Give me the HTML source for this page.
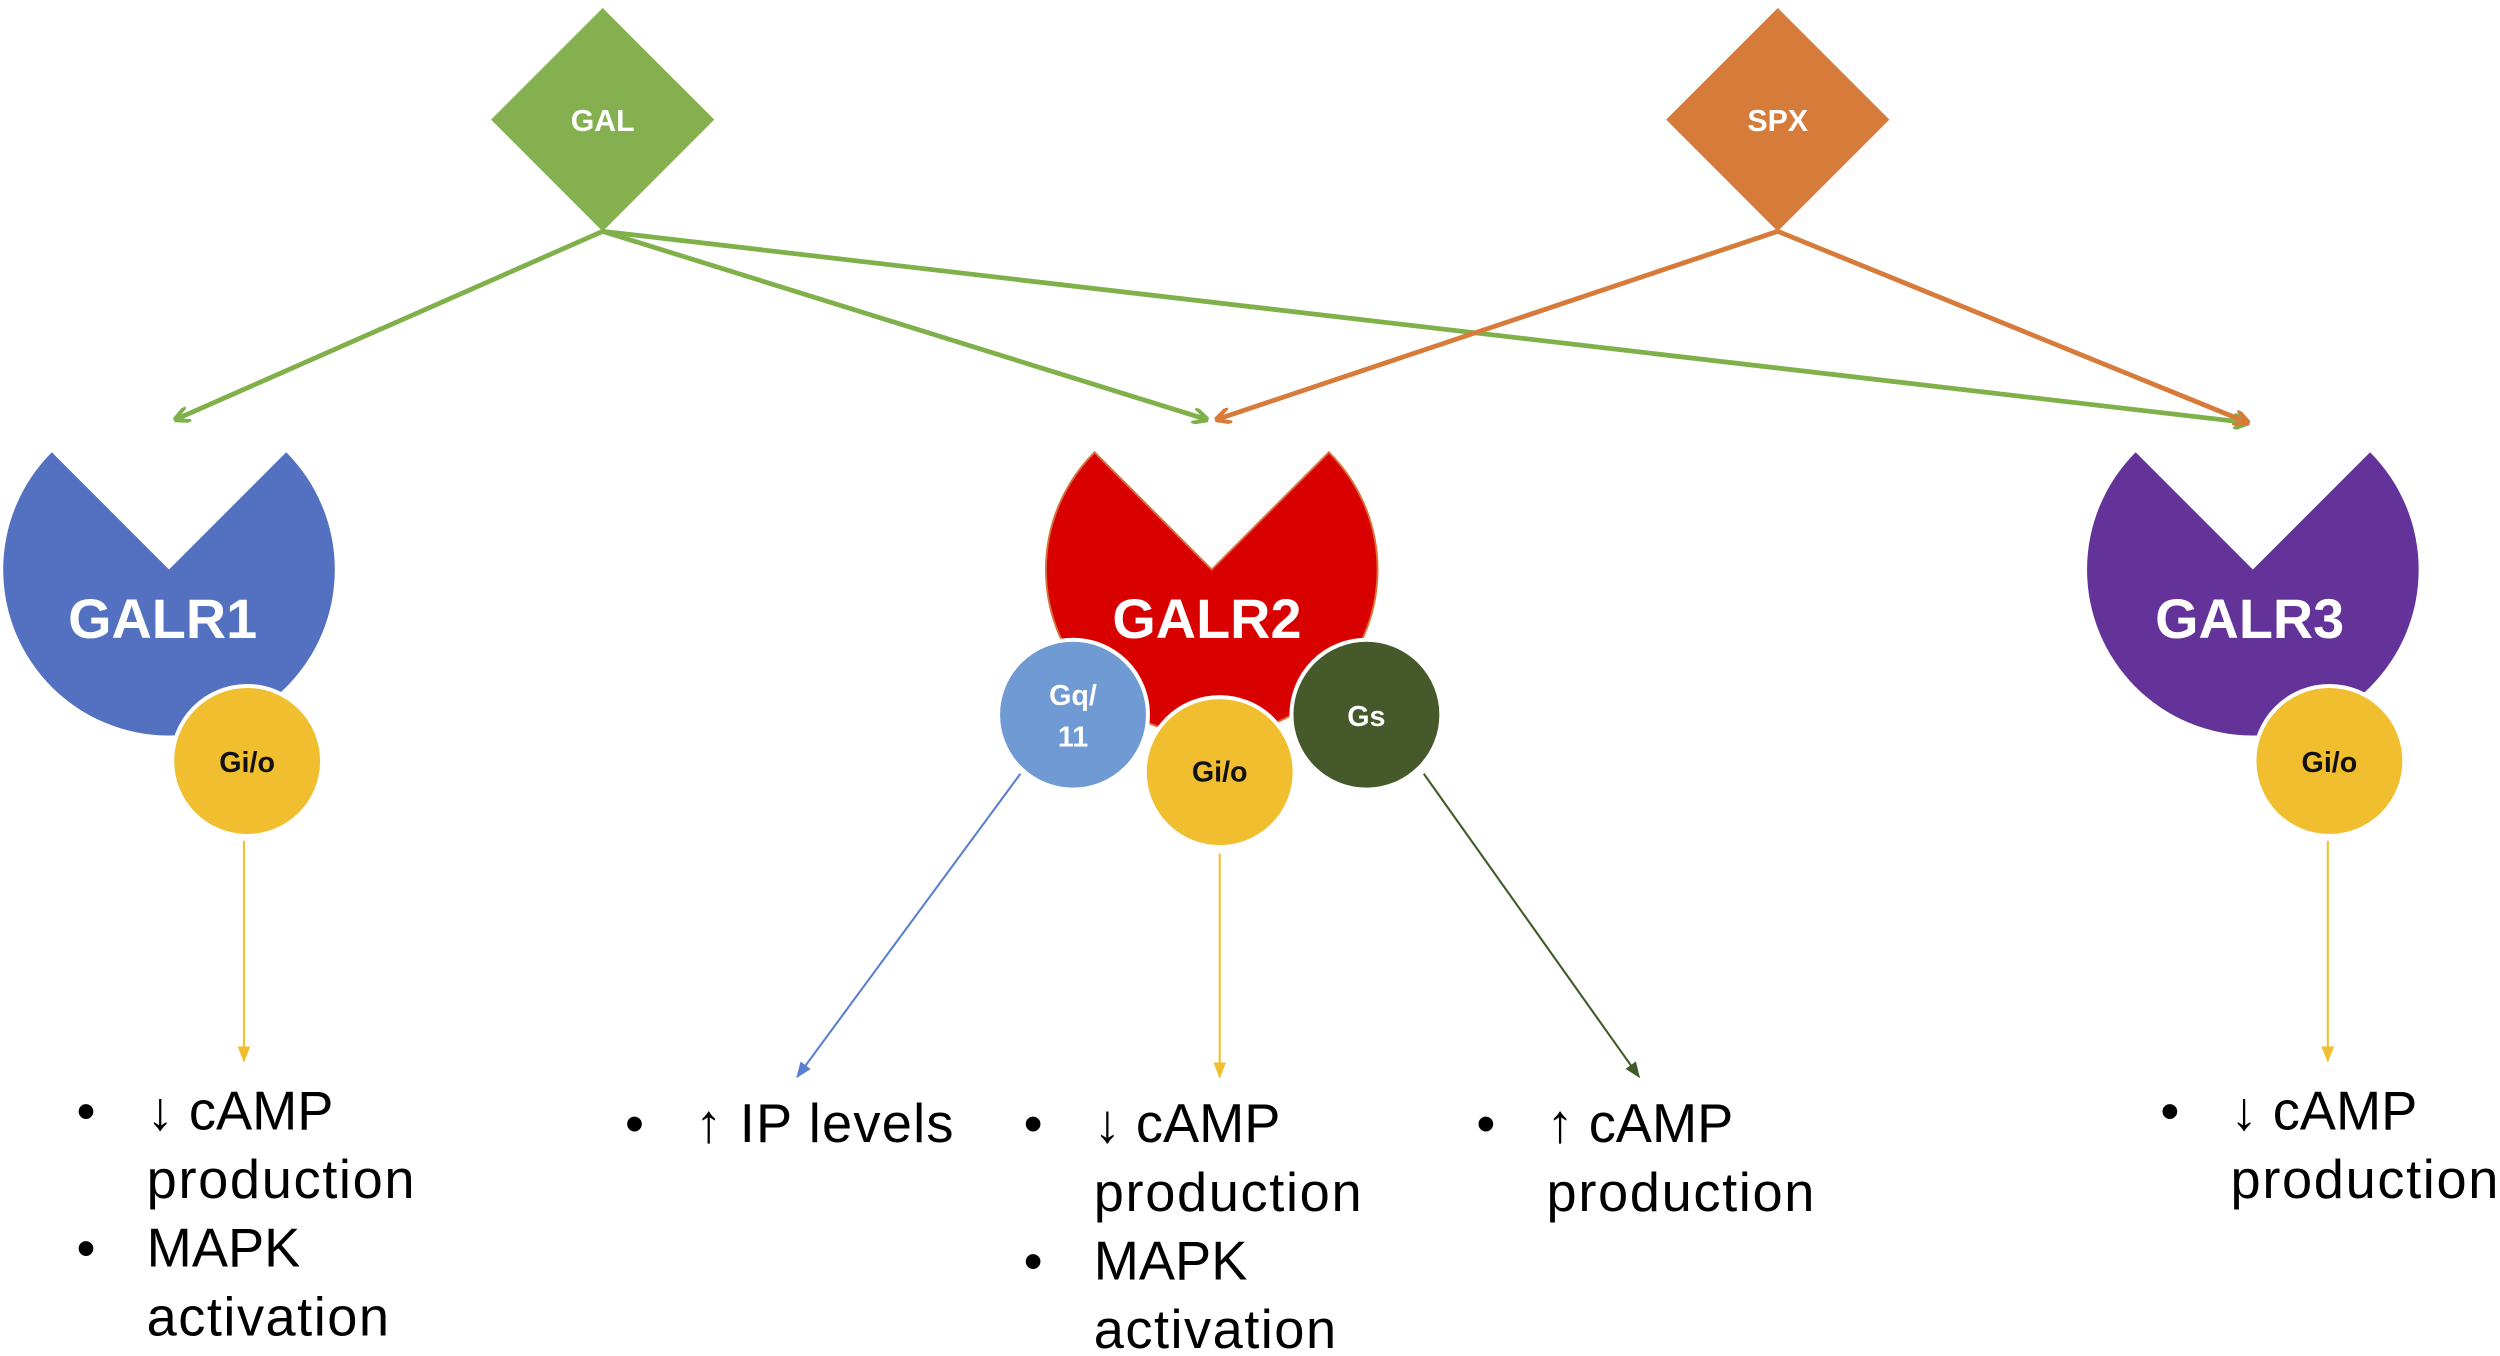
<!DOCTYPE html>
<html><head><meta charset="utf-8"><style>
html,body{margin:0;padding:0;background:#fff;}
svg{display:block;}
text{font-family:"Liberation Sans",Arial,sans-serif;}
</style></head><body>
<svg width="2500" height="1356" viewBox="0 0 1568 850" preserveAspectRatio="none" xmlns="http://www.w3.org/2000/svg">
<defs>
<marker id="ag" markerWidth="10" markerHeight="10" refX="9" refY="5" orient="auto" markerUnits="userSpaceOnUse"><path d="M0,0 L10,5 L0,10" fill="none" stroke="#7fb04a" stroke-width="2.5"/></marker>
<marker id="ao" markerWidth="10" markerHeight="10" refX="9" refY="5" orient="auto" markerUnits="userSpaceOnUse"><path d="M0,0 L10,5 L0,10" fill="none" stroke="#d77b3a" stroke-width="2.5"/></marker>
<marker id="ay" markerWidth="10" markerHeight="10" refX="9" refY="5" orient="auto" markerUnits="userSpaceOnUse"><path d="M0,1 L10,5 L0,9 Z" fill="#f0be2e"/></marker>
<marker id="ab" markerWidth="10" markerHeight="10" refX="9" refY="5" orient="auto" markerUnits="userSpaceOnUse"><path d="M0,1 L10,5 L0,9 Z" fill="#5b7fd0"/></marker>
<marker id="ad" markerWidth="10" markerHeight="10" refX="9" refY="5" orient="auto" markerUnits="userSpaceOnUse"><path d="M0,1 L10,5 L0,9 Z" fill="#3f5a27"/></marker>
</defs>

<polygon points="378,5 448,75 378,145 308,75" fill="#84b050"/>
<text x="378" y="82" font-size="19" font-weight="bold" fill="#fff" text-anchor="middle">GAL</text>
<polygon points="1115,5 1185,75 1115,145 1045,75" fill="#d77b3a"/>
<text x="1115" y="82" font-size="19" font-weight="bold" fill="#fff" text-anchor="middle">SPX</text>

<g stroke="#7fb04a" stroke-width="3" fill="none">
<line x1="378" y1="145" x2="110" y2="263" marker-end="url(#ag)"/>
<line x1="378" y1="145" x2="757" y2="263" marker-end="url(#ag)"/>
<line x1="378" y1="145" x2="1410" y2="265" marker-end="url(#ag)"/>
</g>
<g stroke="#d77b3a" stroke-width="3" fill="none">
<line x1="1115" y1="145" x2="763" y2="263" marker-end="url(#ao)"/>
<line x1="1115" y1="145" x2="1410" y2="265" marker-end="url(#ao)"/>
</g>

<path d="M106,357 L32.5,283.5 A104,104 0 1 0 179.5,283.5 Z" fill="#5470c1"/>
<text x="102" y="400" font-size="35" font-weight="bold" fill="#fff" text-anchor="middle">GALR1</text>
<path d="M760,357 L686.5,283.5 A104,104 0 1 0 833.5,283.5 Z" fill="#d90000" stroke="#d7703a" stroke-width="1.2"/>
<text x="757" y="400" font-size="35" font-weight="bold" fill="#fff" text-anchor="middle">GALR2</text>
<path d="M1413,357 L1339.5,283.5 A104,104 0 1 0 1486.5,283.5 Z" fill="#64339a"/>
<text x="1411" y="400" font-size="35" font-weight="bold" fill="#fff" text-anchor="middle">GALR3</text>

<g stroke="#fff" stroke-width="2.5">
<circle cx="155" cy="477" r="47" fill="#f0be2e"/>
<circle cx="1461" cy="477" r="47" fill="#f0be2e"/>
<circle cx="673" cy="448" r="47" fill="#6f9ad4"/>
<circle cx="857" cy="448" r="47" fill="#46592b"/>
<circle cx="765" cy="484" r="47" fill="#f0be2e"/>
</g>
<g font-size="18" font-weight="bold" text-anchor="middle">
<text x="155" y="484" fill="#111">Gi/o</text>
<text x="1461" y="484" fill="#111">Gi/o</text>
<text x="765" y="490" fill="#111">Gi/o</text>
<text x="673" y="442" fill="#fff">Gq/</text>
<text x="673" y="468" fill="#fff">11</text>
<text x="857" y="455" fill="#fff">Gs</text>
</g>

<line x1="153" y1="527" x2="153" y2="665" stroke="#f0be2e" stroke-width="1.3" marker-end="url(#ay)"/>
<line x1="1460" y1="527" x2="1460" y2="665" stroke="#f0be2e" stroke-width="1.3" marker-end="url(#ay)"/>
<line x1="765" y1="535" x2="765" y2="675" stroke="#f0be2e" stroke-width="1.3" marker-end="url(#ay)"/>
<line x1="640" y1="485" x2="500" y2="675" stroke="#5b7fd0" stroke-width="1.3" marker-end="url(#ab)"/>
<line x1="893" y1="485" x2="1028" y2="675" stroke="#3f5a27" stroke-width="1.3" marker-end="url(#ad)"/>

<g font-size="34" fill="#000">
<text x="48" y="708">•</text><text x="92" y="708">↓ cAMP</text>
<text x="92" y="751" textLength="168">production</text>
<text x="48" y="794">•</text><text x="92" y="794">MAPK</text>
<text x="92" y="837" textLength="152">activation</text>

<text x="392" y="716">•</text><text x="436" y="716" textLength="162">↑ IP levels</text>

<text x="642" y="716">•</text><text x="686" y="716">↓ cAMP</text>
<text x="686" y="759" textLength="168">production</text>
<text x="642" y="802">•</text><text x="686" y="802">MAPK</text>
<text x="686" y="845" textLength="152">activation</text>

<text x="926" y="716">•</text><text x="970" y="716">↑ cAMP</text>
<text x="970" y="759" textLength="168">production</text>

<text x="1355" y="708">•</text><text x="1399" y="708">↓ cAMP</text>
<text x="1399" y="751" textLength="168">production</text>
</g>
</svg>
</body></html>
